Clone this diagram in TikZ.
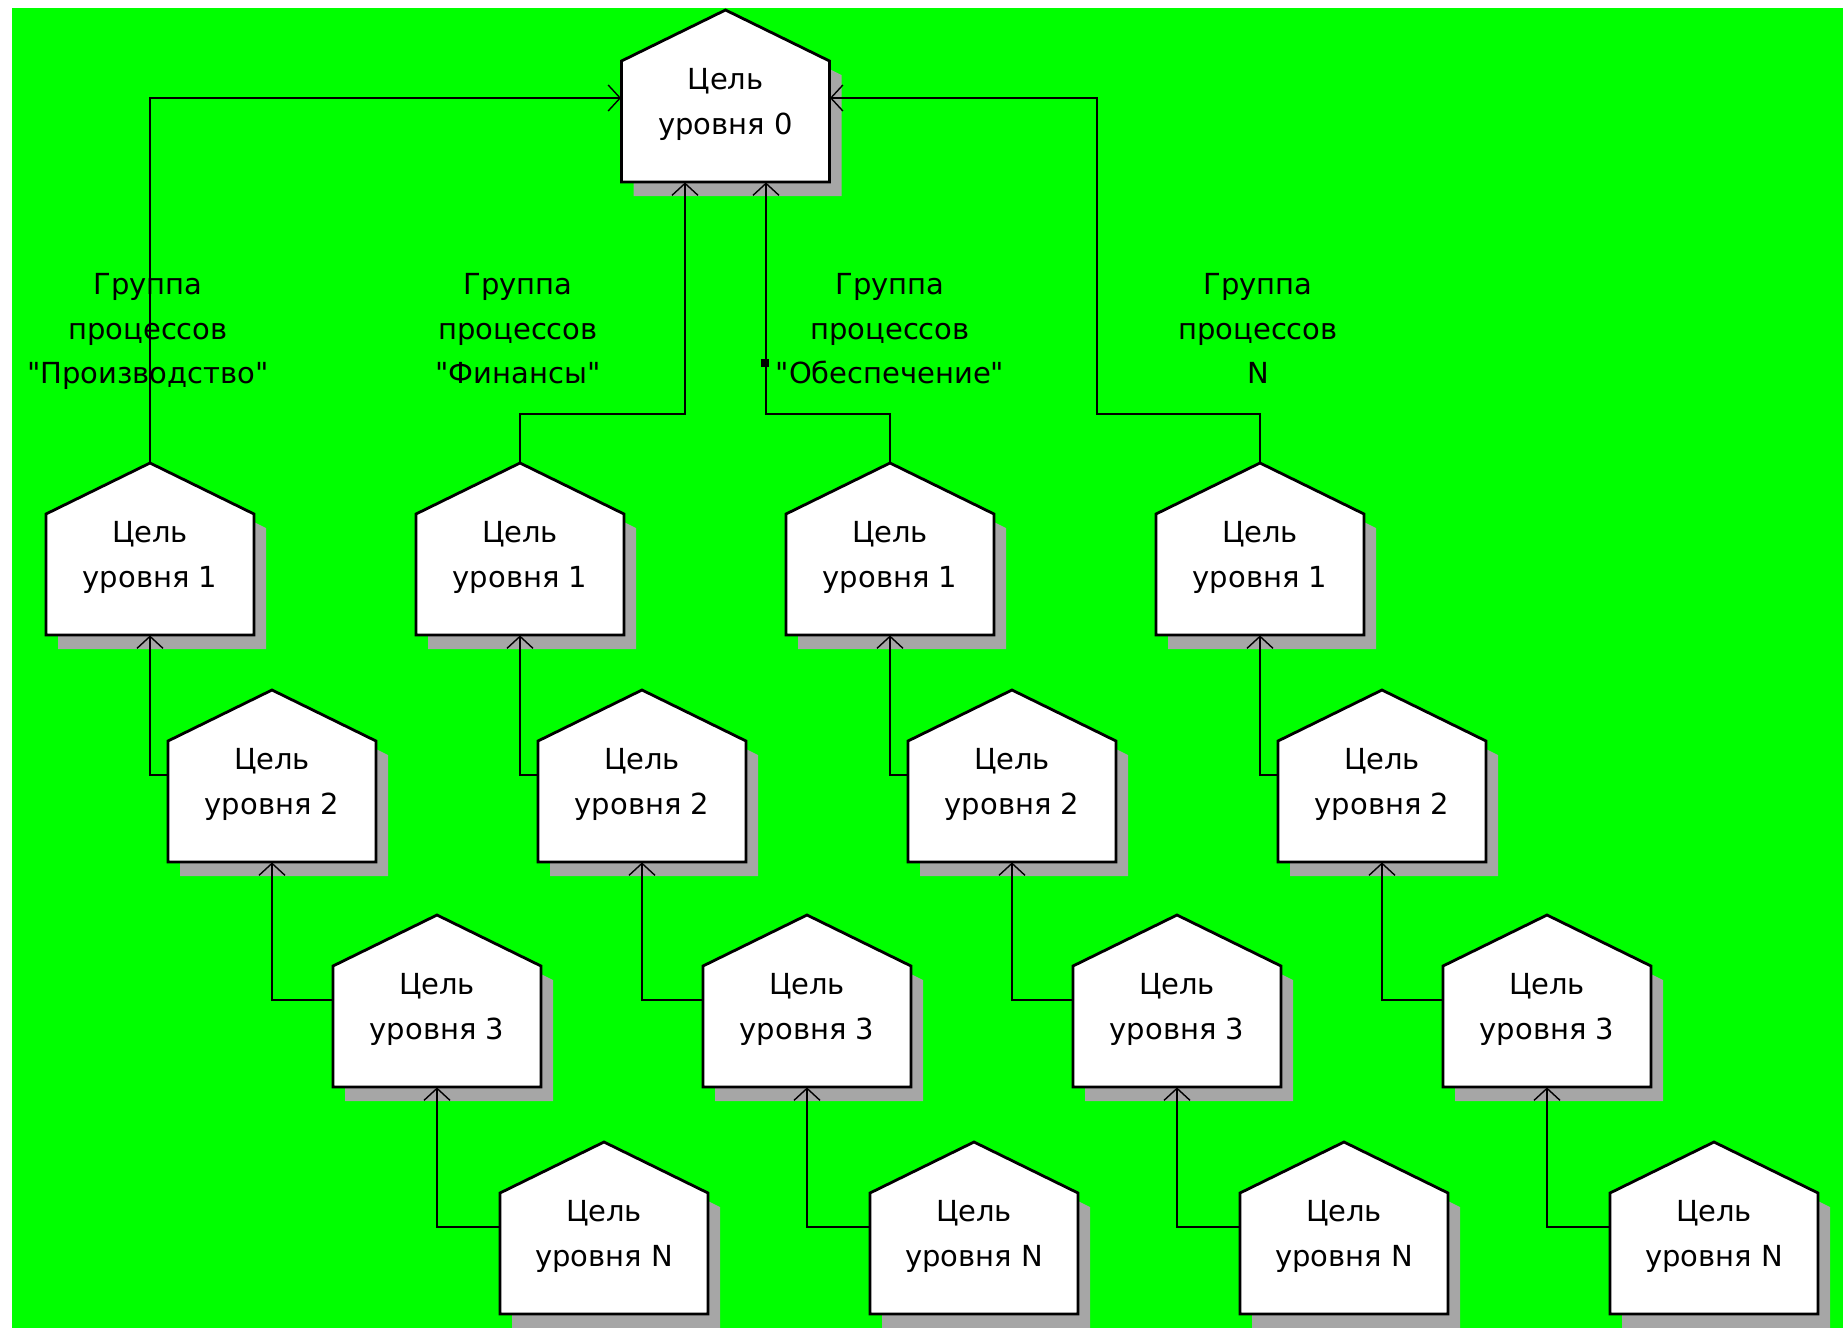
\documentclass[tikz,border=0pt]{standalone}
\usepackage{fontspec}
\setmainfont{DejaVu Sans}[Ligatures=TeXOff]
\usetikzlibrary{arrows.meta}
\definecolor{bggreen}{RGB}{0,255,0}
\definecolor{shadowgray}{RGB}{166,166,166}

\tikzset{
  housebox/.style={draw=black, fill=white, line width=1.4pt, line join=miter},
  housedrop/.style={fill=shadowgray},
  bodybox/.style={rectangle, draw=none, inner sep=0pt, minimum width=104pt, minimum height=60.5pt},
  goaltext/.style={anchor=north, inner sep=0pt, align=center,
    font=\fontsize{14.5pt}{22.5pt}\selectfont},
  grouplabel/.style={anchor=north, inner sep=0pt, align=center,
    font=\fontsize{14.5pt}{22.25pt}\selectfont},
  conn/.style={line width=1.4pt,
    -{Straight Barb[length=6pt,width=13pt,line width=0.7pt]}}
}

% One goal: drop shadow, house outline, body node for anchors, apex coordinate, text
% #1 name, #2 centre x, #3 apex y, #4 level
\newcommand\goal[4]{%
  \begin{scope}[shift={(#2,#3)}]
    \path[housedrop] (-92,65) -- (12,14) -- (116,65) -- (116,186) -- (-92,186) -- cycle;
    \draw[housebox] (-104,51) -- (0,0) -- (104,51) -- (104,172) -- (-104,172) -- cycle;
    \coordinate (#1-top) at (0,0);
    \node[bodybox] (#1) at (0,111.5) {};
    \node[goaltext] (#1-txt) at (0,58) {Цель\\уровня #4};
  \end{scope}}

\begin{document}
\begin{tikzpicture}[x=0.5pt, y=-0.5pt]
\useasboundingbox (0,0) rectangle (1843,1328);
\fill[white] (0,0) rectangle (1843,1328);
\fill[bggreen] (12,8) rectangle (1843,1328);

% root goal
\goal{g0}{725.5}{10}{0}

% four process groups, each a chain of goals
\foreach \c [count=\k from 0] in {a,b,c,d} {
  \pgfmathsetmacro\cx{150+370*\k}
  \goal{g1\c}{\cx}{463}{1}
  \goal{g2\c}{\cx+122}{690}{2}
  \goal{g3\c}{\cx+287}{915}{3}
  \goal{gN\c}{\cx+454}{1142}{N}
  \draw[conn] ([yshift=13.25pt]g2\c.west) -| (g1\c.south);
  \draw[conn] ([yshift=13.25pt]g3\c.west) -| (g2\c.south);
  \draw[conn] ([yshift=13.25pt]gN\c.west) -| (g3\c.south);
}

% links from the level-1 goals up to the root
\coordinate (jb) at (685,414);
\coordinate (jc) at (766,414);
\coordinate (jd) at (1097,414);
\draw[conn] (g1a-top) |- ([yshift=11.75pt]g0.west);
\draw[conn] (g1b-top) |- (jb) -- ([xshift=-20.25pt]g0.south);
\draw[conn] (g1c-top) |- (jc) -- ([xshift=20.25pt]g0.south);
\draw[conn] (g1d-top) |- (jd) |- ([yshift=11.75pt]g0.east);
\fill (761,359) rectangle (769,367);

% group captions
\node[grouplabel] (lab-a) at (148,273) {Группа\\процессов\\"Производство"};
\node[grouplabel] (lab-b) at (518,273) {Группа\\процессов\\"Финансы"};
\node[grouplabel] (lab-c) at (890,273) {Группа\\процессов\\"Обеспечение"};
\node[grouplabel] (lab-d) at (1258,273) {Группа\\процессов\\N};
\end{tikzpicture}
\end{document}
